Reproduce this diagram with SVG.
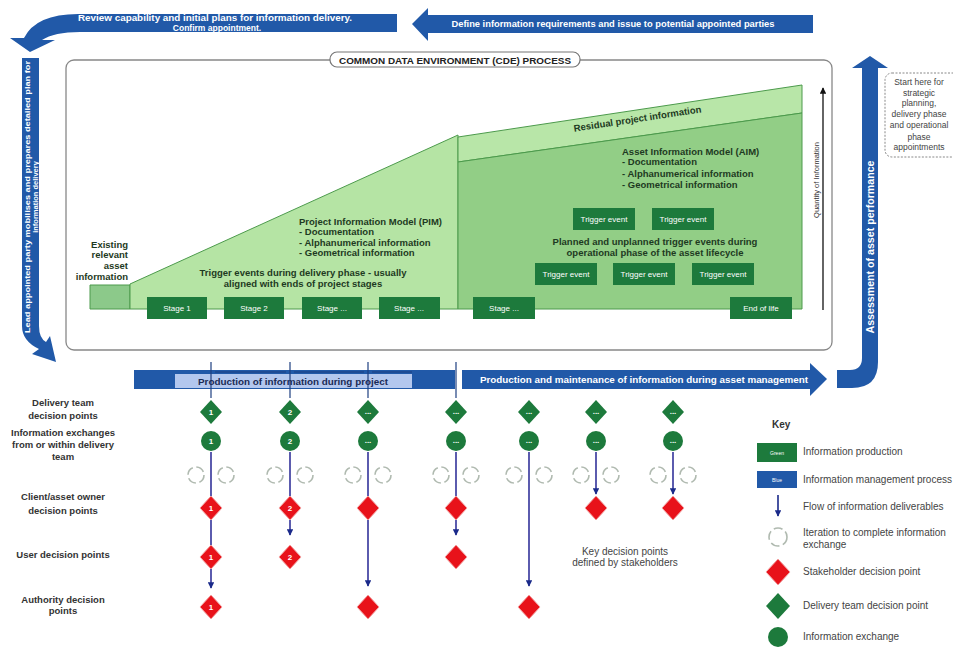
<svg xmlns="http://www.w3.org/2000/svg" width="953" height="648" viewBox="0 0 953 648">
<defs>
<style>
text{font-family:"Liberation Sans",Arial,sans-serif}
.bw{fill:#fff;font-weight:bold;font-size:8.5px}
.lbl{fill:#333;font-weight:bold;font-size:9.5px;text-anchor:middle}
.gb{fill:#1d7a3c}
.gt{fill:#fff;font-size:8px;text-anchor:middle}
.dk{fill:#1e3a22;font-weight:bold;font-size:9.5px}
.blue{fill:#2159a8}
.key{fill:#444;font-size:10px}
.num{fill:#fff;font-size:8px;font-weight:bold;text-anchor:middle}
.flow{stroke:#33339a;stroke-width:1.6;fill:none}
.iter{fill:none;stroke:#b0bab0;stroke-width:1.6;stroke-dasharray:9 3.6}
.rd{fill:#e8121a;stroke:#f2a0a0;stroke-width:1}
.gd{fill:#1d7a3c}
</style>
<marker id="ah" viewBox="0 0 10 10" refX="9" refY="5" markerWidth="4" markerHeight="4" orient="auto"><path d="M0,0 L10,5 L0,10 z" fill="#1a2a8a"/></marker>
<marker id="ahk" viewBox="0 0 10 10" refX="9" refY="5" markerWidth="5" markerHeight="5" orient="auto"><path d="M0,0 L10,5 L0,10 z" fill="#111"/></marker>
</defs>
<rect width="953" height="648" fill="#fff"/>

<!-- Top arrows -->
<g id="arrow-review">
<path class="blue" d="M397,14 L78,14 Q36,14 24,38 L10,38 L30,52 L55,40 L42,40 Q54,32 80,32 L397,32 Z"/>
<text class="bw" x="215" y="21" text-anchor="middle" textLength="274" lengthAdjust="spacingAndGlyphs">Review capability and initial plans for information delivery.</text>
<text class="bw" x="217" y="31" text-anchor="middle">Confirm appointment.</text>
</g>
<g id="arrow-define">
<path class="blue" d="M813,15 L428,15 L428,8 L412,24 L428,41 L428,33 L813,33 Z"/>
<text class="bw" x="613" y="27" text-anchor="middle" textLength="323" lengthAdjust="spacingAndGlyphs">Define information requirements and issue to potential appointed parties</text>
</g>
<g id="arrow-lead">
<path class="blue" d="M22,58 L39,58 L39,326 Q39,338 46,342 L50,336 L56,362 L32,354 L39,349 Q22,341 22,326 Z"/>
<text class="bw" style="font-size:7.5px" transform="translate(30,197) rotate(-90)" text-anchor="middle" textLength="272" lengthAdjust="spacingAndGlyphs">Lead appointed party mobilises and prepares detailed plan for</text>
<text class="bw" style="font-size:7.5px" transform="translate(37.5,197) rotate(-90)" text-anchor="middle">information delivery</text>
</g>
<g id="arrow-assess">
<path class="blue" d="M837,370 L850,370 Q862,370 862,358 L862,68 L852,68 L870,56 L888,68 L878,68 L878,362 Q878,388 852,388 L837,388 Z"/>
<text class="bw" style="font-size:10px" transform="translate(873.5,247) rotate(-90)" text-anchor="middle" textLength="173" lengthAdjust="spacingAndGlyphs">Assessment of asset performance</text>
</g>
<g id="start-here">
<rect x="885" y="73" width="75" height="84" rx="7" fill="#fff" stroke="#888" stroke-width="1" stroke-dasharray="2 1.5"/>
<g style="fill:#444;font-size:8.5px;text-anchor:middle">
<text x="919" y="85">Start here for</text>
<text x="919" y="96">strategic</text>
<text x="919" y="106">planning,</text>
<text x="919" y="117">delivery phase</text>
<text x="919" y="128">and operational</text>
<text x="919" y="140">phase</text>
<text x="919" y="150">appointments</text>
</g>
</g>

<!-- CDE box -->
<g id="cde">
<rect x="66" y="60" width="766" height="290" rx="8" fill="#fff" stroke="#888" stroke-width="1.3"/>
<rect x="330" y="52" width="250" height="15" rx="7" fill="#fff" stroke="#777" stroke-width="1.2"/>
<text x="455" y="63.5" text-anchor="middle" style="font-size:9.5px;font-weight:bold;fill:#222" textLength="232" lengthAdjust="spacingAndGlyphs">COMMON DATA ENVIRONMENT (CDE) PROCESS</text>
<polygon points="90,285 130,285 130,309 90,309" fill="#8cc98a" stroke="#4c9a4c" stroke-width="1"/>
<polygon points="130,284 458,135 458,309 130,309" fill="#b5e4a4" stroke="#4c9a4c" stroke-width="1"/>
<polygon points="458,137 802,85 802,113 458,162" fill="#b8e6a8" stroke="#4c9a4c" stroke-width="1"/>
<polygon points="458,162 802,113 802,309 458,309" fill="#92ce86" stroke="#4c9a4c" stroke-width="1"/>
<text x="638" y="122" text-anchor="middle" transform="rotate(-8.6 638 122)" class="dk">Residual project information</text>
<g class="dk" style="text-anchor:end">
<text x="128" y="248">Existing</text>
<text x="128" y="258">relevant</text>
<text x="128" y="269">asset</text>
<text x="128" y="280">information</text>
</g>
<g class="dk">
<text x="299" y="225">Project Information Model (PIM)</text>
<text x="299" y="235">- Documentation</text>
<text x="299" y="246">- Alphanumerical information</text>
<text x="299" y="256">- Geometrical information</text>
<text x="303" y="276" text-anchor="middle">Trigger events during delivery phase - usually</text>
<text x="303" y="287" text-anchor="middle">aligned with ends of project stages</text>
<text x="622" y="155">Asset Information Model (AIM)</text>
<text x="622" y="165">- Documentation</text>
<text x="622" y="177">- Alphanumerical information</text>
<text x="622" y="188">- Geometrical information</text>
<text x="655" y="245" text-anchor="middle">Planned and unplanned trigger events during</text>
<text x="655" y="256" text-anchor="middle">operational phase of the asset lifecycle</text>
</g>
<line x1="823" y1="310" x2="823" y2="88" stroke="#111" stroke-width="1.3" marker-end="url(#ahk)"/>
<text transform="translate(819,180) rotate(-90)" text-anchor="middle" style="font-size:7.5px;fill:#333">Quantity of Information</text>
</g>
<g id="stage1"><rect class="gb" x="147" y="297" width="60" height="22"/><text class="gt" x="177" y="311">Stage 1</text></g>
<g id="stage2"><rect class="gb" x="224" y="297" width="60" height="22"/><text class="gt" x="254" y="311">Stage 2</text></g>
<g id="stage3"><rect class="gb" x="302" y="297" width="60" height="22"/><text class="gt" x="332" y="311">Stage ...</text></g>
<g id="stage4"><rect class="gb" x="379" y="297" width="61" height="22"/><text class="gt" x="409" y="311">Stage ...</text></g>
<g id="stage5"><rect class="gb" x="473" y="297" width="62" height="22"/><text class="gt" x="504" y="311">Stage ...</text></g>
<g id="end-of-life"><rect class="gb" x="730" y="297" width="62" height="22"/><text class="gt" x="761" y="311">End of life</text></g>
<g id="trigger1"><rect class="gb" x="573" y="208" width="62" height="22"/><text class="gt" x="604" y="222">Trigger event</text></g>
<g id="trigger2"><rect class="gb" x="652" y="208" width="62" height="22"/><text class="gt" x="683" y="222">Trigger event</text></g>
<g id="trigger3"><rect class="gb" x="535" y="263" width="62" height="22"/><text class="gt" x="566" y="277">Trigger event</text></g>
<g id="trigger4"><rect class="gb" x="613" y="263" width="62" height="22"/><text class="gt" x="644" y="277">Trigger event</text></g>
<g id="trigger5"><rect class="gb" x="692" y="263" width="62" height="22"/><text class="gt" x="723" y="277">Trigger event</text></g>

<!-- Production bars -->
<g id="production-project">
<rect class="blue" x="134" y="370" width="321" height="19"/>
<rect x="175" y="374" width="237" height="14" fill="#b3c7ee"/>
<g stroke="#1d3f80" stroke-width="1.2">
<line x1="211" y1="362" x2="211" y2="398"/><line x1="290" y1="362" x2="290" y2="398"/><line x1="368" y1="362" x2="368" y2="398"/><line x1="456" y1="362" x2="456" y2="398"/>
<line x1="215" y1="372" x2="286" y2="372"/><line x1="294" y1="372" x2="364" y2="372"/><line x1="372" y1="372" x2="412" y2="372"/>
</g>
<text x="293" y="384.5" text-anchor="middle" style="font-size:9.5px;font-weight:bold;fill:#1a2a55" textLength="190" lengthAdjust="spacingAndGlyphs">Production of information during project</text>
</g>
<g id="production-asset">
<path class="blue" d="M462,370 L810,370 L810,363 L827,379 L810,396 L810,389 L462,389 Z"/>
<text class="bw" style="font-size:9.5px" x="644" y="383" text-anchor="middle" textLength="328" lengthAdjust="spacingAndGlyphs">Production and maintenance of information during asset management</text>
</g>

<!-- Row labels -->
<g id="row-labels">
<text class="lbl" x="63" y="406">Delivery team</text>
<text class="lbl" x="63" y="419">decision points</text>
<text class="lbl" x="63" y="436">Information exchanges</text>
<text class="lbl" x="63" y="448">from or within delivery</text>
<text class="lbl" x="63" y="460">team</text>
<text class="lbl" x="63" y="500">Client/asset owner</text>
<text class="lbl" x="63" y="514">decision points</text>
<text class="lbl" x="63" y="558">User decision points</text>
<text class="lbl" x="63" y="603">Authority decision</text>
<text class="lbl" x="63" y="614">points</text>
</g>

<!-- Connectors -->
<g id="connectors">
<line class="flow" x1="211" y1="452" x2="211" y2="498"/>
<line class="flow" x1="211" y1="517" x2="211" y2="546"/>
<line class="flow" x1="211" y1="567" x2="211" y2="588" marker-end="url(#ah)"/>
<line class="flow" x1="290" y1="452" x2="290" y2="498"/>
<line class="flow" x1="290" y1="517" x2="290" y2="535" marker-end="url(#ah)"/>
<line class="flow" x1="368" y1="452" x2="368" y2="498"/>
<line class="flow" x1="368" y1="517" x2="368" y2="586" marker-end="url(#ah)"/>
<line class="flow" x1="456" y1="452" x2="456" y2="498"/>
<line class="flow" x1="456" y1="517" x2="456" y2="535" marker-end="url(#ah)"/>
<line class="flow" x1="529" y1="452" x2="529" y2="586" marker-end="url(#ah)"/>
<line class="flow" x1="596" y1="452" x2="596" y2="494" marker-end="url(#ah)"/>
<line class="flow" x1="673" y1="452" x2="673" y2="494" marker-end="url(#ah)"/>
</g>

<!-- Columns -->
<g id="col1">
<path class="gd" d="M211,400 L222,412 L211,424 L200,412 Z"/><text class="num" x="211" y="415">1</text>
<circle class="gd" cx="211" cy="441" r="10"/><text class="num" x="211" y="444">1</text>
<circle class="iter" cx="196" cy="475" r="8"/><circle class="iter" cx="226" cy="475" r="8"/>
<path class="rd" d="M211,496 L222,508 L211,520 L200,508 Z"/><text class="num" x="211" y="511">1</text>
<path class="rd" d="M211,545 L222,557 L211,569 L200,557 Z"/><text class="num" x="211" y="560">1</text>
<path class="rd" d="M211,595 L222,607 L211,619 L200,607 Z"/><text class="num" x="211" y="610">1</text>
</g>
<g id="col2">
<path class="gd" d="M290,400 L301,412 L290,424 L279,412 Z"/><text class="num" x="290" y="415">2</text>
<circle class="gd" cx="290" cy="441" r="10"/><text class="num" x="290" y="444">2</text>
<circle class="iter" cx="275" cy="475" r="8"/><circle class="iter" cx="305" cy="475" r="8"/>
<path class="rd" d="M290,496 L301,508 L290,520 L279,508 Z"/><text class="num" x="290" y="511">2</text>
<path class="rd" d="M290,545 L301,557 L290,569 L279,557 Z"/><text class="num" x="290" y="560">2</text>
</g>
<g id="col3">
<path class="gd" d="M368,400 L379,412 L368,424 L357,412 Z"/><text class="num" x="368" y="414">...</text>
<circle class="gd" cx="368" cy="441" r="10"/><text class="num" x="368" y="443">...</text>
<circle class="iter" cx="353" cy="475" r="8"/><circle class="iter" cx="383" cy="475" r="8"/>
<path class="rd" d="M368,496 L379,508 L368,520 L357,508 Z"/>
<path class="rd" d="M368,595 L379,607 L368,619 L357,607 Z"/>
</g>
<g id="col4">
<path class="gd" d="M456,400 L467,412 L456,424 L445,412 Z"/><text class="num" x="456" y="414">...</text>
<circle class="gd" cx="456" cy="441" r="10"/><text class="num" x="456" y="443">...</text>
<circle class="iter" cx="441" cy="475" r="8"/><circle class="iter" cx="471" cy="475" r="8"/>
<path class="rd" d="M456,496 L467,508 L456,520 L445,508 Z"/>
<path class="rd" d="M456,545 L467,557 L456,569 L445,557 Z"/>
</g>
<g id="col5">
<path class="gd" d="M529,400 L540,412 L529,424 L518,412 Z"/><text class="num" x="529" y="414">...</text>
<circle class="gd" cx="529" cy="441" r="10"/><text class="num" x="529" y="443">...</text>
<circle class="iter" cx="514" cy="475" r="8"/><circle class="iter" cx="544" cy="475" r="8"/>
<path class="rd" d="M529,595 L540,607 L529,619 L518,607 Z"/>
</g>
<g id="col6">
<path class="gd" d="M596,400 L607,412 L596,424 L585,412 Z"/><text class="num" x="596" y="414">...</text>
<circle class="gd" cx="596" cy="441" r="10"/><text class="num" x="596" y="443">...</text>
<circle class="iter" cx="581" cy="475" r="8"/><circle class="iter" cx="611" cy="475" r="8"/>
<path class="rd" d="M596,496 L607,508 L596,520 L585,508 Z"/>
</g>
<g id="col7">
<path class="gd" d="M673,400 L684,412 L673,424 L662,412 Z"/><text class="num" x="673" y="414">...</text>
<circle class="gd" cx="673" cy="441" r="10"/><text class="num" x="673" y="443">...</text>
<circle class="iter" cx="658" cy="475" r="8"/><circle class="iter" cx="688" cy="475" r="8"/>
<path class="rd" d="M673,496 L684,508 L673,520 L662,508 Z"/>
</g>

<g id="note">
<text x="625" y="555" text-anchor="middle" style="font-size:10px;fill:#444">Key decision points</text>
<text x="625" y="566" text-anchor="middle" style="font-size:10px;fill:#444">defined by stakeholders</text>
</g>

<!-- Key -->
<g id="key">
<text x="772" y="428" style="font-size:10px;font-weight:bold;fill:#333">Key</text>
<rect class="gb" x="757" y="443" width="40" height="19"/><text x="777" y="455" text-anchor="middle" style="font-size:5px;fill:#fff">Green</text>
<text class="key" x="803" y="455">Information production</text>
<rect class="blue" x="757" y="471" width="40" height="17"/><text x="777" y="482" text-anchor="middle" style="font-size:5px;fill:#fff">Blue</text>
<text class="key" x="803" y="483">Information management process</text>
<line x1="778" y1="495" x2="778" y2="516" stroke="#1a2a8a" stroke-width="1.6" marker-end="url(#ah)"/>
<text class="key" x="803" y="510">Flow of information deliverables</text>
<circle class="iter" cx="778" cy="537" r="9"/>
<text class="key" x="803" y="536">Iteration to complete information</text>
<text class="key" x="803" y="548">exchange</text>
<path class="rd" d="M778,559 L790,572 L778,585 L766,572 Z"/>
<text class="key" x="803" y="575">Stakeholder decision point</text>
<path class="gd" d="M778,593 L790,606 L778,619 L766,606 Z"/>
<text class="key" x="803" y="609">Delivery team decision point</text>
<circle class="gd" cx="778" cy="637" r="10"/>
<text class="key" x="803" y="640">Information exchange</text>
</g>
</svg>
